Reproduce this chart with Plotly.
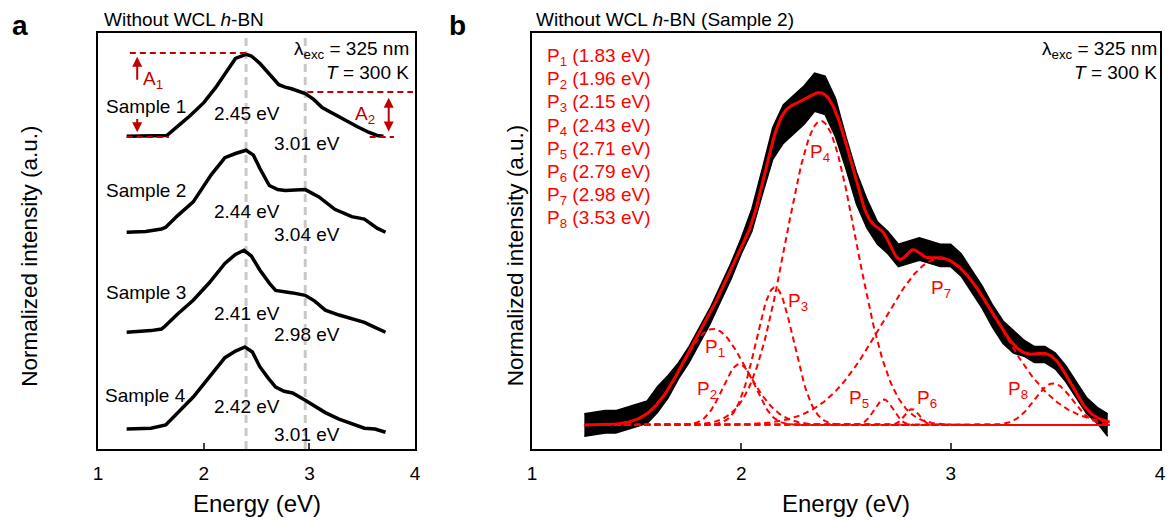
import numpy as np
import plotly.graph_objects as go

# ---------------- panel a: four PL spectra (normalised, stacked) ----------------
energy_s1 = [1.27, 1.45, 1.65, 1.76, 1.87, 2.00, 2.11, 2.20, 2.30, 2.40, 2.45, 2.53, 2.62,
             2.71, 2.77, 2.83, 2.96, 3.04, 3.12, 3.23, 3.34, 3.45, 3.56, 3.64, 3.70]
int_s1 = [0.0, 0.0, 0.01, 0.13, 0.25, 0.41, 0.59, 0.76, 0.95, 1.0, 0.98, 0.89, 0.76,
          0.63, 0.60, 0.58, 0.52, 0.45, 0.35, 0.27, 0.19, 0.12, 0.05, 0.01, 0.0]

energy_s2 = [1.27, 1.45, 1.60, 1.64, 1.75, 1.90, 2.07, 2.20, 2.30, 2.40, 2.47, 2.53, 2.62,
             2.70, 2.77, 2.87, 2.96, 3.09, 3.24, 3.40, 3.52, 3.64, 3.72]
int_s2 = [0.0, 0.01, 0.04, 0.06, 0.20, 0.37, 0.70, 0.91, 0.96, 1.0, 0.94, 0.78, 0.57,
          0.52, 0.51, 0.52, 0.52, 0.43, 0.28, 0.19, 0.16, 0.05, 0.0]

energy_s3 = [1.27, 1.50, 1.60, 1.63, 1.75, 1.90, 2.05, 2.20, 2.30, 2.38, 2.45, 2.53, 2.62,
             2.68, 2.84, 2.96, 3.05, 3.15, 3.28, 3.40, 3.52, 3.62, 3.72]
int_s3 = [0.0, 0.02, 0.04, 0.07, 0.22, 0.39, 0.60, 0.84, 0.95, 1.0, 0.93, 0.76, 0.60,
          0.51, 0.48, 0.45, 0.38, 0.27, 0.21, 0.17, 0.12, 0.06, 0.0]

energy_s4 = [1.27, 1.50, 1.64, 1.75, 1.90, 2.05, 2.20, 2.30, 2.39, 2.46, 2.53, 2.61, 2.68,
             2.76, 2.84, 2.96, 3.05, 3.15, 3.28, 3.40, 3.52, 3.62, 3.72]
int_s4 = [0.0, 0.01, 0.05, 0.20, 0.39, 0.63, 0.87, 0.95, 1.0, 0.94, 0.76, 0.62, 0.51,
          0.46, 0.44, 0.35, 0.28, 0.20, 0.12, 0.07, 0.01, 0.0, -0.04]

sample_names = ["Sample 1", "Sample 2", "Sample 3", "Sample 4"]
sample_offsets = [3.57, 2.40, 1.18, 0.0]
peak_main = ["2.45 eV", "2.44 eV", "2.41 eV", "2.42 eV"]
peak_shoulder = ["3.01 eV", "3.04 eV", "2.98 eV", "3.01 eV"]
guide_lines = [2.40, 2.96]

# ---------------- panel b: sample 2 spectrum and gaussian fit ----------------
black_energy = [1.25, 1.30, 1.35, 1.40, 1.45, 1.50, 1.55, 1.60, 1.65, 1.70, 1.75, 1.80, 1.85,
                1.90, 1.95, 2.00, 2.05, 2.10, 2.15, 2.20, 2.25, 2.30, 2.35, 2.40, 2.45, 2.50,
                2.55, 2.60, 2.65, 2.70, 2.75, 2.80, 2.85, 2.90, 2.95, 3.00, 3.05, 3.10, 3.15,
                3.20, 3.25, 3.30, 3.35, 3.40, 3.45, 3.50, 3.55, 3.60, 3.65, 3.70, 3.75]
black_center = [0.00, 0.005, 0.01, 0.01, 0.02, 0.03, 0.04, 0.08, 0.12, 0.17, 0.22, 0.28, 0.34,
                0.41, 0.48, 0.56, 0.64, 0.76, 0.88, 0.94, 0.97, 1.00, 1.04, 1.03, 0.96, 0.85,
                0.74, 0.66, 0.60, 0.57, 0.53, 0.54, 0.55, 0.54, 0.53, 0.53, 0.50, 0.45, 0.40,
                0.34, 0.29, 0.26, 0.24, 0.22, 0.22, 0.20, 0.16, 0.11, 0.06, 0.03, 0.00]
black_spread = [0.035, 0.035, 0.035, 0.035, 0.035, 0.035, 0.035, 0.04, 0.035, 0.025, 0.025,
                0.025, 0.025, 0.025, 0.025, 0.025, 0.035, 0.04, 0.05, 0.06, 0.06, 0.06, 0.06,
                0.06, 0.06, 0.05, 0.05, 0.045, 0.035, 0.035, 0.035, 0.035, 0.035, 0.035, 0.035,
                0.035, 0.035, 0.035, 0.035, 0.035, 0.035, 0.035, 0.025, 0.025, 0.025, 0.025,
                0.025, 0.025, 0.025, 0.025, 0.035]

peak_center = [1.865, 1.99, 2.16, 2.38, 2.68, 2.815, 2.95, 3.49]
peak_height = [0.30, 0.19, 0.43, 0.95, 0.08, 0.05, 0.52, 0.13]
peak_sigma = [0.153, 0.08, 0.09, 0.168, 0.045, 0.035, 0.28, 0.09]
peak_energy_labels = ["1.83", "1.96", "2.15", "2.43", "2.71", "2.79", "2.98", "3.53"]
peak_label_pos = [(1.875, 0.24), (1.837, 0.11), (2.272, 0.385), (2.376, 0.85),
                  (2.56, 0.08), (2.887, 0.08), (2.953, 0.425), (3.32, 0.11)]

FONT = "Arial, Liberation Sans, sans-serif"
DARKRED = "#C00000"
RED = "#FF0000"
W, H = 1173, 520

fig = go.Figure()

# panel a spectra
for e, v, off in [(energy_s1, int_s1, sample_offsets[0]), (energy_s2, int_s2, sample_offsets[1]),
                  (energy_s3, int_s3, sample_offsets[2]), (energy_s4, int_s4, sample_offsets[3])]:
    fig.add_trace(go.Scatter(x=e, y=[off + i for i in v], mode="lines",
                             line=dict(color="black", width=3.5), xaxis="x", yaxis="y"))

# panel b measured spectrum as a band (noise envelope)
upper = [c + s for c, s in zip(black_center, black_spread)]
lower = [c - s for c, s in zip(black_center, black_spread)]
fig.add_trace(go.Scatter(x=black_energy, y=upper, mode="lines", line=dict(color="black", width=1.5),
                         xaxis="x2", yaxis="y2"))
fig.add_trace(go.Scatter(x=black_energy, y=lower, mode="lines", line=dict(color="black", width=1.5),
                         fill="tonexty", fillcolor="black", xaxis="x2", yaxis="y2"))

# gaussian components and their sum
e_grid = np.linspace(1.25, 3.76, 400)
total = np.zeros_like(e_grid)
for c, h, s in zip(peak_center, peak_height, peak_sigma):
    g = h * np.exp(-(e_grid - c) ** 2 / (2 * s ** 2))
    total += g
    fig.add_trace(go.Scatter(x=e_grid, y=g, mode="lines",
                             line=dict(color=RED, width=2, dash="6px,4px"),
                             xaxis="x2", yaxis="y2"))
fig.add_trace(go.Scatter(x=e_grid, y=total, mode="lines", line=dict(color=RED, width=3),
                         xaxis="x2", yaxis="y2"))


def txt(x, y, text, xref="paper", yref="paper", size=19, color="black", xanchor="center", **kw):
    return dict(x=x, y=y, xref=xref, yref=yref, text=text, showarrow=False, xanchor=xanchor,
                yanchor="middle", font=dict(family=FONT, size=size, color=color), **kw)


ann = []
# panel a labels
label_y = [(3.93, 3.85, 3.48), (2.91, 2.65, 2.37), (1.67, 1.41, 1.15), (0.41, 0.27, -0.07)]
for name, pm, ps, (ys, ym, ysh) in zip(sample_names, peak_main, peak_shoulder, label_y):
    ann.append(txt(1.45, ys, name, "x", "y"))
    ann.append(txt(2.41, ym, pm, "x", "y"))
    ann.append(txt(2.98, ysh, ps, "x", "y"))

# A1 / A2 arrows
ann.append(dict(x=1.37, y=4.54, ax=1.37, ay=4.24, xref="x", yref="y", axref="x", ayref="y",
                text="", showarrow=True, arrowhead=2, arrowsize=1, arrowwidth=2, arrowcolor=DARKRED))
ann.append(dict(x=1.37, y=3.62, ax=1.37, ay=3.80, xref="x", yref="y", axref="x", ayref="y",
                text="", showarrow=True, arrowhead=2, arrowsize=1, arrowwidth=2, arrowcolor=DARKRED))
ann.append(dict(x=3.75, y=3.63, ax=3.75, ay=4.06, xref="x", yref="y", axref="x", ayref="y",
                text="", showarrow=True, arrowhead=2, startarrowhead=2, arrowside="end+start",
                arrowsize=1, arrowwidth=2, arrowcolor=DARKRED))
ann.append(txt(1.52, 4.26, "A<sub>1</sub>", "x", "y", color=DARKRED))
ann.append(txt(3.53, 3.83, "A<sub>2</sub>", "x", "y", color=DARKRED))

# conditions text
for xr in [410 / W, 1165 / W]:
    ann.append(txt(xr, 1 - 50 / H, "λ<sub>exc</sub> = 325 nm", xanchor="right"))
    ann.append(txt(xr, 1 - 73 / H, "<i>T</i> = 300 K", xanchor="right"))

# panel b peak list and component labels
for i, lab in enumerate(peak_energy_labels):
    ann.append(txt(545 / W, 1 - (57 + 23.2 * i) / H, f"P<sub>{i + 1}</sub> ({lab} eV)",
                   color=RED, xanchor="left"))
for i, (px_, py_) in enumerate(peak_label_pos):
    ann.append(txt(px_, py_, f"P<sub>{i + 1}</sub>", "x2", "y2", color=RED))

# titles, panel letters, axis titles
ann.append(txt(98 / W, 1 - 20 / H, "Without WCL <i>h</i>-BN", xanchor="left"))
ann.append(txt(534 / W, 1 - 20 / H, "Without WCL <i>h</i>-BN (Sample 2)", xanchor="left"))
ann.append(txt(15 / W, 1 - 25 / H, "<b>a</b>", size=28))
ann.append(txt(457 / W, 1 - 25 / H, "<b>b</b>", size=28))
for xc in [24 / W, 515 / W]:
    ann.append(txt(xc, 1 - 256 / H, "Normalized intensity (a.u.)", size=22.5, textangle=-90))
for xc in [254 / W, 849 / W]:
    ann.append(txt(xc, 1 - 503 / H, "Energy (eV)", size=24))

shapes = []
for gx in guide_lines:
    shapes.append(dict(type="line", xref="x", yref="y domain", x0=gx, x1=gx, y0=0, y1=1,
                       line=dict(color="#C8C8C8", width=3, dash="8px,5px"), layer="below"))
red_dash = dict(color=DARKRED, width=2, dash="6px,4px")
for x0, x1, yy in [(1.30, 2.40, 4.585), (1.27, 1.67, 3.56), (2.98, 3.98, 4.11), (3.57, 3.80, 3.56)]:
    shapes.append(dict(type="line", xref="x", yref="y", x0=x0, x1=x1, y0=yy, y1=yy, line=red_dash))

xax = dict(range=[1, 4], tickvals=[1, 2, 3, 4], ticks="inside", ticklen=6, tickwidth=1.5,
           showline=True, mirror=True, linecolor="black", linewidth=1.5, showgrid=False,
           zeroline=False, tickfont=dict(family=FONT, size=19), ticklabelstandoff=6)
yax = dict(showticklabels=False, ticks="", showline=True, mirror=True, linecolor="black",
           linewidth=1.5, showgrid=False, zeroline=False)

fig.update_layout(
    width=W, height=H, margin=dict(l=0, r=0, t=0, b=0),
    paper_bgcolor="white", plot_bgcolor="white", showlegend=False,
    font=dict(family=FONT, size=19, color="black"),
    xaxis=dict(xax, domain=[94 / W, 414 / W]),
    yaxis=dict(yax, domain=[1 - 449 / H, 1 - 33 / H], range=[-0.244, 4.83]),
    xaxis2=dict(xax, domain=[532 / W, 1166 / W], anchor="y2"),
    yaxis2=dict(yax, domain=[1 - 449 / H, 1 - 33 / H], range=[-0.075, 1.225], anchor="x2"),
    annotations=ann, shapes=shapes,
)

fig.write_html("out.html", config={"displayModeBar": False},
               post_script="document.body.style.margin='0px';")
